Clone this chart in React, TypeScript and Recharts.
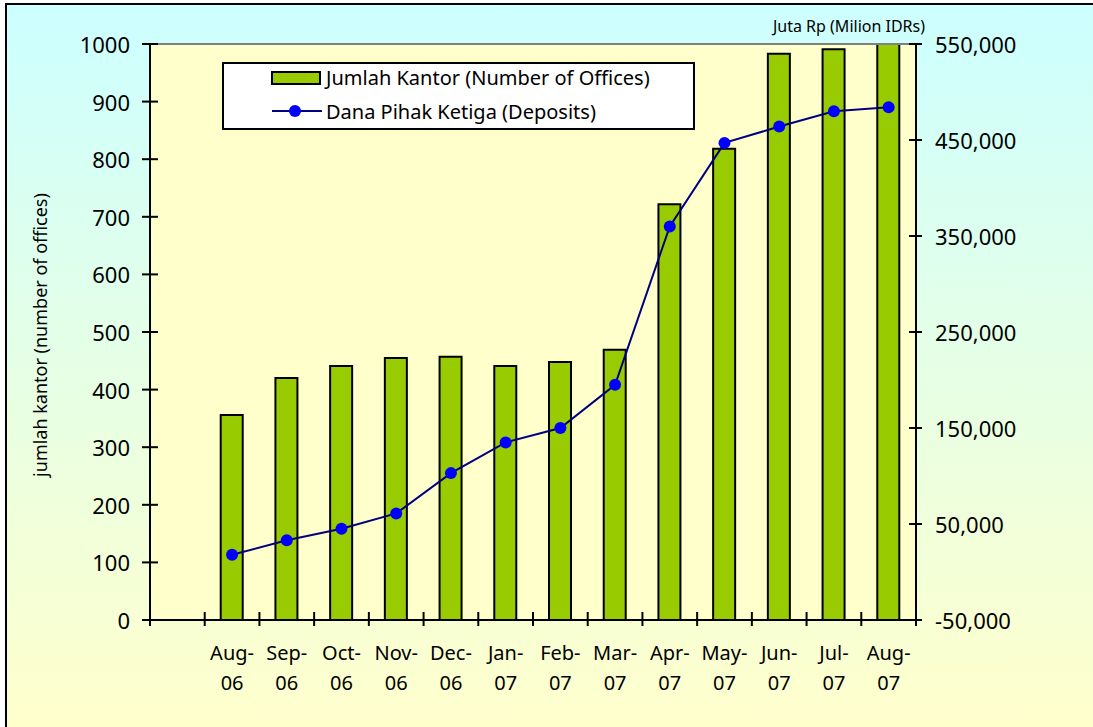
import React from 'react';
import {
  ComposedChart,
  Bar,
  Line,
  XAxis,
  YAxis,
  Legend,
  ReferenceArea,
  ReferenceLine,
  Label,
} from 'recharts';

// first slot is left empty in the original chart
const months = ['', 'Aug-06', 'Sep-06', 'Oct-06', 'Nov-06', 'Dec-06', 'Jan-07', 'Feb-07', 'Mar-07', 'Apr-07', 'May-07', 'Jun-07', 'Jul-07', 'Aug-07'];
const offices = [null, 356, 420, 441, 455, 457, 441, 448, 469, 722, 818, 983, 991, 1006];
const deposits = [null, 18000, 33000, 45000, 61000, 103000, 135000, 150000, 195000, 360000, 447000, 464000, 480000, 484000];

const leftTicks = [0, 100, 200, 300, 400, 500, 600, 700, 800, 900, 1000];
const rightTicks = [-50000, 50000, 150000, 250000, 350000, 450000, 550000];

const seriesNames = {
  offices: 'Jumlah Kantor (Number of Offices)',
  deposits: 'Dana Pihak Ketiga (Deposits)',
};

const data = months.map((m, i) => ({ month: m, offices: offices[i], deposits: deposits[i] }));

const FONT = '"Noto Sans", "Open Sans", sans-serif';
const CHART_W = 1086;
const CHART_H = 722;
const PLOT_LEFT = 143;
const PLOT_RIGHT = 909;
const BAND = (PLOT_RIGHT - PLOT_LEFT) / months.length;

const XTick = (props: any) => {
  const { x, y, payload } = props;
  const label: string = payload.value || '';
  const [mon, yr] = label.split('-');
  const isLast = label === months[months.length - 1];
  return (
    <g>
      <line x1={x - BAND / 2} x2={x - BAND / 2} y1={y - 8} y2={y + 6} stroke="#000" strokeWidth={2} />
      {isLast && <line x1={x + BAND / 2} x2={x + BAND / 2} y1={y - 8} y2={y + 6} stroke="#000" strokeWidth={2} />}
      {label && (
        <text textAnchor="middle" fontFamily={FONT} fontSize={20} fill="#000">
          <tspan x={x} y={y + 40}>{mon}-</tspan>
          <tspan x={x} y={y + 70}>{yr}</tspan>
        </text>
      )}
    </g>
  );
};

const LeftTick = (props: any) => {
  const { x, y, payload } = props;
  return (
    <g>
      <line x1={x - 8} x2={x + 8} y1={y} y2={y} stroke="#000" strokeWidth={2} />
      <text x={x - 20} y={y + 9} textAnchor="end" fontFamily={FONT} fontSize={22} fill="#000">
        {payload.value}
      </text>
    </g>
  );
};

const RightTick = (props: any) => {
  const { x, y, payload } = props;
  return (
    <g>
      <line x1={x - 7} x2={x + 6} y1={y} y2={y} stroke="#000" strokeWidth={2} />
      <text x={x + 19} y={y + 9} textAnchor="start" fontFamily={FONT} fontSize={22} fill="#000">
        {Number(payload.value).toLocaleString('en-US')}
      </text>
    </g>
  );
};

const LegendBox = () => (
  <svg width={473} height={68} style={{ display: 'block' }}>
    <rect x={1} y={1} width={471} height={66} fill="#fff" stroke="#000" strokeWidth={2} />
    <rect x={50} y={10} width={48} height={12} fill="#99CC00" stroke="#000" strokeWidth={2} />
    <text x={104} y={23} fontFamily={FONT} fontSize={20} fill="#000">{seriesNames.offices}</text>
    <line x1={50} x2={100} y1={49} y2={49} stroke="#000080" strokeWidth={2} />
    <circle cx={73} cy={49} r={6} fill="#0000FF" />
    <text x={104} y={57} fontFamily={FONT} fontSize={20} fill="#000">{seriesNames.deposits}</text>
  </svg>
);

export default function App() {
  return (
    <div
      style={{
        position: 'absolute',
        left: 5,
        top: 3,
        width: 1088,
        height: 724,
        boxSizing: 'border-box',
        borderTop: '2px solid #000',
        borderLeft: '2px solid #000',
        background: 'linear-gradient(to bottom, #CCFFFF, #FFFFCC)',
        overflow: 'hidden',
      }}
    >
      <ComposedChart
        width={CHART_W}
        height={CHART_H}
        data={data}
        margin={{ top: 39, right: 0, bottom: 0, left: 0 }}
        barCategoryGap={0}
      >
        <ReferenceArea yAxisId="left" y1={0} y2={1000} fill="#FFFFCC" fillOpacity={1} stroke="none" />
        <ReferenceLine yAxisId="left" y={1000} stroke="#808080" strokeWidth={2} />
        <XAxis
          dataKey="month"
          height={107}
          interval={0}
          tickSize={0}
          tickMargin={0}
          tickLine={false}
          axisLine={{ stroke: '#000', strokeWidth: 2 }}
          tick={<XTick />}
        />
        <YAxis
          yAxisId="left"
          width={143}
          domain={[0, 1000]}
          ticks={leftTicks}
          allowDataOverflow
          tickSize={0}
          tickMargin={0}
          tickLine={false}
          axisLine={{ stroke: '#000', strokeWidth: 2 }}
          tick={<LeftTick />}
        >
          <Label
            content={() => (
              <text
                x={40}
                y={330}
                transform="rotate(-90 40 330)"
                textAnchor="middle"
                fontFamily={FONT}
                fontSize={18}
                fill="#000"
              >
                jumlah kantor (number of offices)
              </text>
            )}
          />
        </YAxis>
        <YAxis
          yAxisId="right"
          orientation="right"
          width={CHART_W - PLOT_RIGHT}
          domain={[-50000, 550000]}
          ticks={rightTicks}
          tickSize={0}
          tickMargin={0}
          tickLine={false}
          axisLine={{ stroke: '#000', strokeWidth: 2 }}
          tick={<RightTick />}
        >
          <Label
            content={() => (
              <text x={842} y={27} textAnchor="middle" fontFamily={FONT} fontSize={16} fill="#000">
                Juta Rp (Milion IDRs)
              </text>
            )}
          />
        </YAxis>
        <Legend
          layout="horizontal"
          verticalAlign="middle"
          align="center"
          wrapperStyle={{ left: 215, top: 57, width: 473, height: 68 }}
          content={() => <LegendBox />}
        />
        <Bar
          yAxisId="left"
          dataKey="offices"
          name={seriesNames.offices}
          fill="#99CC00"
          stroke="#000"
          strokeWidth={2}
          barSize={22}
          isAnimationActive={false}
        />
        <Line
          yAxisId="right"
          dataKey="deposits"
          name={seriesNames.deposits}
          stroke="#000080"
          strokeWidth={2}
          dot={{ r: 6, fill: '#0000FF', stroke: 'none' }}
          activeDot={false}
          isAnimationActive={false}
        />
      </ComposedChart>
    </div>
  );
}
